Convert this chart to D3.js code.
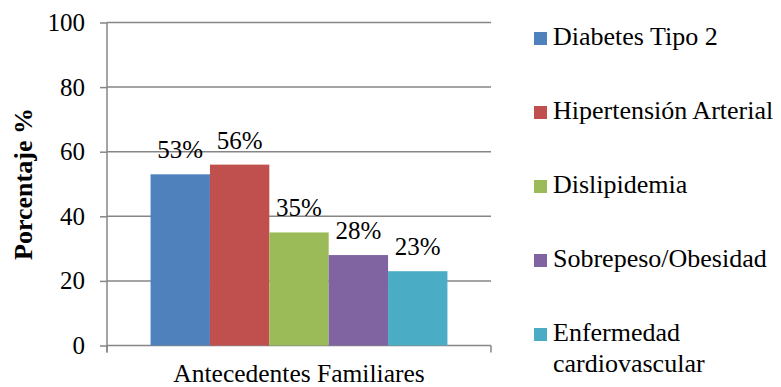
<!DOCTYPE html>
<html>
<head>
<meta charset="utf-8">
<script src="https://cdn.jsdelivr.net/npm/d3@7"></script>
</head>
<body style="margin:0;background:#fff">
<div id="chart"></div>
<script>
// Data
const group = "Antecedentes Familiares";
const categories = ["Diabetes Tipo 2", "Hipertensión Arterial", "Dislipidemia", "Sobrepeso/Obesidad", "Enfermedad cardiovascular"];
const values = [53, 56, 35, 28, 23];
const colors = ["#4F81BD", "#C0504D", "#9BBB59", "#8064A2", "#4BACC6"];
const y_ticks = [0, 20, 40, 60, 80, 100];

const chart_width = 781;
const chart_height = 387;
const plot = {left: 107, right: 491, top: 22.5, bottom: 345.5};
const grid_color = "#868686";
const font = "'Liberation Serif', 'Times New Roman', Times";

const svg = d3.select("#chart")
    .append("svg")
    .attr("width", chart_width)
    .attr("height", chart_height);

// Scales
const x0 = d3.scaleBand()
    .domain([group])
    .range([plot.left, plot.right])
    .padding(0.128);

const x1 = d3.scaleBand()
    .domain(categories)
    .range([0, x0.bandwidth()]);

const y_scale = d3.scaleLinear()
    .domain([0, 100])
    .range([plot.bottom, plot.top]);

// Gridlines
svg.append("g")
    .selectAll("line")
    .data(y_ticks.filter(d => d > 0))
    .join("line")
    .attr("x1", plot.left)
    .attr("x2", plot.right)
    .attr("y1", d => y_scale(d))
    .attr("y2", d => y_scale(d))
    .attr("stroke", grid_color)
    .attr("stroke-width", 1.5);

// Y axis
const y_axis = d3.axisLeft(y_scale)
    .tickValues(y_ticks)
    .tickSize(7)
    .tickPadding(15);

const yg = svg.append("g")
    .attr("transform", `translate(${plot.left},0)`)
    .call(y_axis);
yg.select(".domain").remove();
yg.selectAll(".tick line").attr("stroke", grid_color).attr("stroke-width", 1.5);
yg.selectAll(".tick text")
    .style("font-family", font)
    .style("font-size", "25px")
    .attr("fill", "#000");
yg.append("line")
    .attr("x1", 0).attr("x2", 0)
    .attr("y1", plot.top).attr("y2", plot.bottom + 7)
    .attr("stroke", grid_color)
    .attr("stroke-width", 1.5);

// X axis
const xg = svg.append("g")
    .attr("transform", `translate(0,${plot.bottom})`);
xg.append("line")
    .attr("x1", plot.left).attr("x2", plot.right)
    .attr("stroke", grid_color)
    .attr("stroke-width", 1.5);
xg.selectAll(".edge")
    .data(x0.range())
    .join("line")
    .attr("class", "edge")
    .attr("x1", d => d).attr("x2", d => d)
    .attr("y1", 0).attr("y2", 7)
    .attr("stroke", grid_color)
    .attr("stroke-width", 1.5);

svg.append("text")
    .attr("x", x0(group) + x0.bandwidth() / 2)
    .attr("y", 382)
    .attr("text-anchor", "middle")
    .style("font-family", font)
    .style("font-size", "25.5px")
    .text(group);

// Bars
const bars = svg.append("g")
    .attr("transform", `translate(${x0(group)},0)`);

bars.selectAll("rect")
    .data(categories)
    .join("rect")
    .attr("x", d => x1(d))
    .attr("width", x1.bandwidth())
    .attr("y", (d, i) => y_scale(values[i]))
    .attr("height", (d, i) => y_scale(0) - y_scale(values[i]))
    .attr("fill", (d, i) => colors[i]);

bars.selectAll("text")
    .data(categories)
    .join("text")
    .attr("x", d => x1(d) + x1.bandwidth() / 2)
    .attr("y", (d, i) => y_scale(values[i]) - 16)
    .attr("text-anchor", "middle")
    .style("font-family", font)
    .style("font-size", "25px")
    .text((d, i) => values[i] + "%");

// Y title
svg.append("text")
    .attr("transform", "translate(32,184) rotate(-90)")
    .attr("text-anchor", "middle")
    .style("font-family", font)
    .style("font-size", "26px")
    .style("font-weight", "bold")
    .text("Porcentaje %");

// Legend
const legend = svg.append("g")
    .selectAll("g")
    .data(categories)
    .join("g")
    .attr("transform", (d, i) => `translate(534,${32 + i * 74})`);

legend.append("rect")
    .attr("width", 13)
    .attr("height", 13)
    .attr("fill", (d, i) => colors[i]);

legend.append("text")
    .attr("x", 19)
    .attr("y", 13)
    .style("font-family", font)
    .style("font-size", "26px")
    .each(function(d) {
        const lines = d === "Enfermedad cardiovascular" ? ["Enfermedad", "cardiovascular"] : [d];
        d3.select(this).selectAll("tspan")
            .data(lines)
            .join("tspan")
            .attr("x", 19)
            .attr("dy", (l, j) => j === 0 ? 0 : 31)
            .text(l => l);
    });
</script>
</body>
</html>
